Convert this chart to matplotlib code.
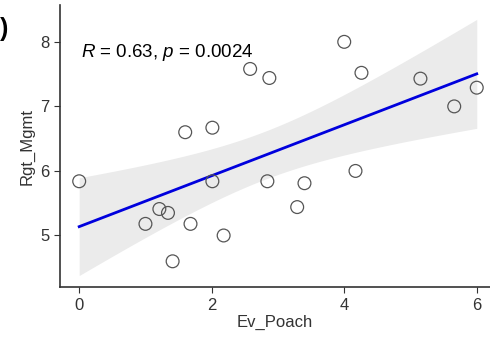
import numpy as np
import matplotlib
matplotlib.use('Agg')
import matplotlib.pyplot as plt

plt.rcParams.update({'font.family': 'Liberation Sans', 'mathtext.fontset': 'custom',
                     'mathtext.rm': 'Liberation Sans', 'mathtext.it': 'Liberation Sans:italic'})

# data
ev_poach = [0.0, 1.0, 1.21, 1.34, 1.41, 1.60, 1.68, 2.01, 2.01, 2.18, 2.58,
            2.87, 2.84, 3.29, 3.40, 4.17, 4.0, 4.26, 5.15, 5.66, 6.0]
rgt_mgmt = [5.84, 5.18, 5.41, 5.35, 4.60, 6.60, 5.18, 6.67, 5.84, 5.0, 7.58,
            7.44, 5.84, 5.44, 5.81, 6.0, 8.0, 7.52, 7.43, 7.0, 7.29]
stat_label = r'$\it{R}$ = 0.63, $\it{p}$ = 0.0024'
T975 = 2.093  # t quantile, df = n-2 = 19

x = np.array(ev_poach); y = np.array(rgt_mgmt); n = len(x)
b, a = np.polyfit(x, y, 1)
xs = np.linspace(x.min(), x.max(), 100)
yh = a + b*xs
resid = y - (a + b*x)
s = np.sqrt(np.sum(resid**2)/(n-2))
se = s*np.sqrt(1/n + (xs-x.mean())**2/np.sum((x-x.mean())**2))

fig = plt.figure(figsize=(4.9, 3.37), dpi=100)
ax = fig.add_axes([0.1224, 0.148, 0.8776, 0.837])
ax.fill_between(xs, yh-T975*se, yh+T975*se, color='#ebebeb', lw=0, zorder=1)
ax.plot(xs, yh, color='#0000dd', lw=2, zorder=2)
ax.scatter(x, y, s=85, facecolors='none', edgecolors='#555555', linewidths=0.9, zorder=3)
ax.text(0.02, 7.83, stat_label, fontsize=13.5, va='center', ha='left')

ax.set_xlim(-0.29, 6.2); ax.set_ylim(4.2, 8.57)
ax.set_xticks([0, 2, 4, 6]); ax.set_yticks([5, 6, 7, 8])
ax.tick_params(labelsize=12, length=4, color='#333333', labelcolor='#333333')
ax.set_xlabel('Ev_Poach', fontsize=12, color='#333333', labelpad=2)
ax.set_ylabel('Rgt_Mgmt', fontsize=12, color='#333333', labelpad=4)
for k in ('top', 'right'): ax.spines[k].set_visible(False)
for k in ('left', 'bottom'): ax.spines[k].set_color('#333333'); ax.spines[k].set_linewidth(1.2)
fig.text(0.0, 0.915, ')', fontsize=18, fontweight='bold', va='center')
fig.savefig('out.png', dpi=100)
